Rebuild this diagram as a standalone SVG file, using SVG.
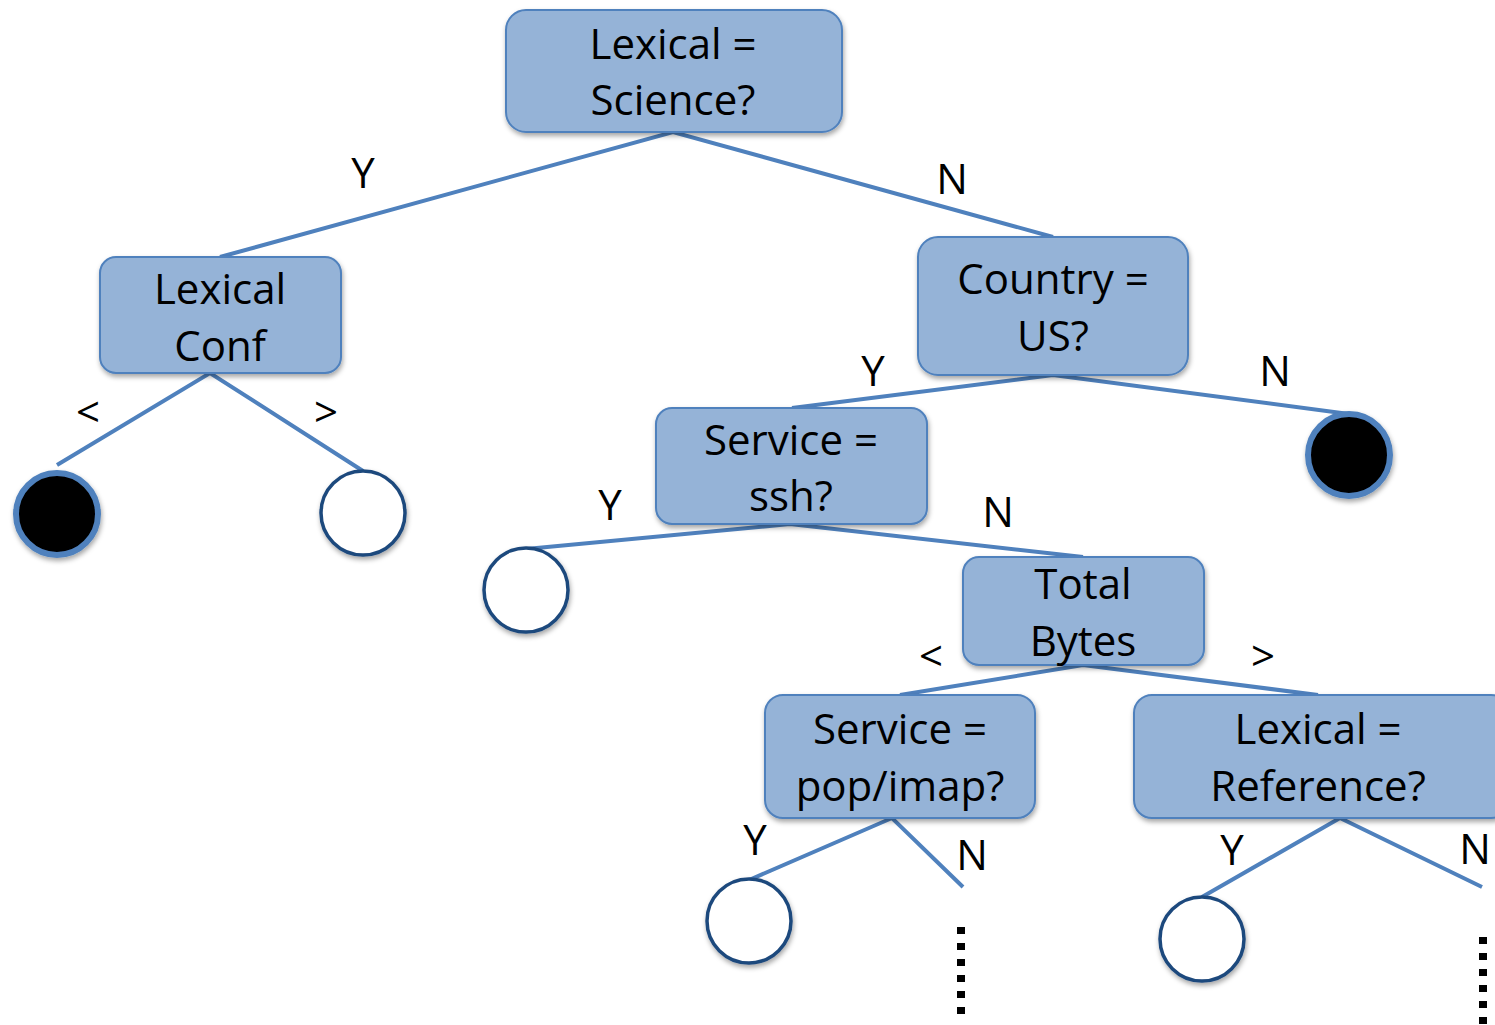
<svg xmlns="http://www.w3.org/2000/svg" width="1495" height="1025" viewBox="0 0 1495 1025">
<defs>
<filter id="sh" x="-10%" y="-10%" width="130%" height="140%">
<feDropShadow dx="1" dy="3" stdDeviation="2.5" flood-color="#000" flood-opacity="0.35"/>
</filter>
<style>
.box{fill:#95B3D7;stroke:#4F81BD;stroke-width:2;filter:url(#sh)}
.t{font-family:"Open Sans","Liberation Sans",sans-serif;font-size:42px;fill:#000;text-anchor:middle}
.e{stroke:#4F81BD;stroke-width:4;fill:none}
.leafF{fill:#000;stroke:#4F81BD;stroke-width:6;filter:url(#sh)}
.leafH{fill:#fff;stroke:#1F497D;stroke-width:3.5;filter:url(#sh)}
.dots{stroke:#000;stroke-width:8;stroke-dasharray:7 9}
</style>
</defs>
<rect width="1495" height="1025" fill="#fff"/>
<g id="connectors">
<polyline class="e" points="220,257 673,132 1053,237"/>
<polyline class="e" points="57,465 210,373 363,471"/>
<polyline class="e" points="792,408 1053,375 1349,414"/>
<polyline class="e" points="526,549 790,524 1083,557"/>
<polyline class="e" points="900,695 1083,665 1318,695"/>
<polyline class="e" points="749,880 892,818 963,887"/>
<polyline class="e" points="1202,897 1340,818 1482,887"/>
<line class="dots" x1="961" y1="927" x2="961" y2="1018"/>
<line class="dots" x1="1483" y1="937" x2="1483" y2="1025"/>
</g>
<g id="edge-labels">
<text class="t" x="363" y="188">Y</text>
<text class="t" x="952" y="194">N</text>
<text class="t" x="88" y="427">&lt;</text>
<text class="t" x="326" y="427">&gt;</text>
<text class="t" x="873" y="386">Y</text>
<text class="t" x="1275" y="386">N</text>
<text class="t" x="610" y="520">Y</text>
<text class="t" x="998" y="527">N</text>
<text class="t" x="931" y="671">&lt;</text>
<text class="t" x="1263" y="671">&gt;</text>
<text class="t" x="755" y="855">Y</text>
<text class="t" x="972" y="870">N</text>
<text class="t" x="1232" y="865">Y</text>
<text class="t" x="1475" y="864">N</text>
</g>
<g id="n-root">
<rect class="box" x="506" y="10" width="336" height="122" rx="20"/>
<text class="t" x="673" y="59">Lexical =</text>
<text class="t" x="673" y="115">Science?</text>
</g>
<g id="n-lexconf">
<rect class="box" x="100" y="257" width="241" height="116" rx="16"/>
<text class="t" x="220" y="304">Lexical</text>
<text class="t" x="220" y="361">Conf</text>
</g>
<g id="n-country">
<rect class="box" x="918" y="237" width="270" height="138" rx="20"/>
<text class="t" x="1053" y="294">Country =</text>
<text class="t" x="1053" y="351">US?</text>
</g>
<g id="n-ssh">
<rect class="box" x="656" y="408" width="271" height="116" rx="16"/>
<text class="t" x="791" y="455">Service =</text>
<text class="t" x="791" y="511">ssh?</text>
</g>
<g id="n-bytes">
<rect class="box" x="963" y="557" width="241" height="108" rx="16"/>
<text class="t" x="1083" y="599">Total</text>
<text class="t" x="1083" y="656">Bytes</text>
</g>
<g id="n-pop">
<rect class="box" x="765" y="695" width="270" height="123" rx="18"/>
<text class="t" x="900" y="744">Service =</text>
<text class="t" x="900" y="801">pop/imap?</text>
</g>
<g id="n-ref">
<rect class="box" x="1134" y="695" width="375" height="123" rx="18"/>
<text class="t" x="1318" y="744">Lexical =</text>
<text class="t" x="1318" y="801">Reference?</text>
</g>
<g id="leaf-1"><circle class="leafF" cx="57" cy="514" r="41"/></g>
<g id="leaf-2"><circle class="leafH" cx="363" cy="513" r="42"/></g>
<g id="leaf-3"><circle class="leafF" cx="1349" cy="455" r="41"/></g>
<g id="leaf-4"><circle class="leafH" cx="526" cy="590" r="42"/></g>
<g id="leaf-5"><circle class="leafH" cx="749" cy="921" r="42"/></g>
<g id="leaf-6"><circle class="leafH" cx="1202" cy="939" r="42"/></g>
</svg>
